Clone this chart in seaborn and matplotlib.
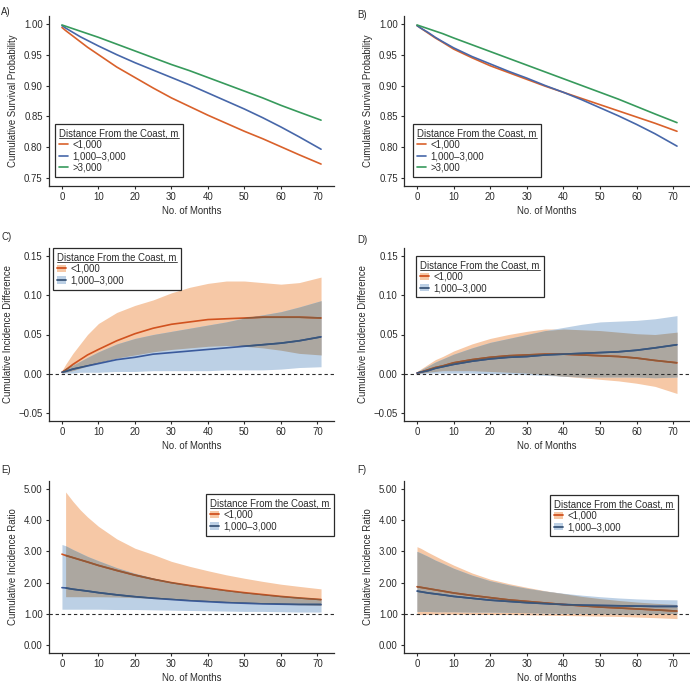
import numpy as np
import matplotlib
matplotlib.use("Agg")
import matplotlib.pyplot as plt
import seaborn as sns
from matplotlib.lines import Line2D
from matplotlib.patches import Patch
from matplotlib.path import Path

months = [0, 1, 3, 5, 7, 10, 15, 20, 25, 30, 35, 40, 45, 50, 55, 60, 65, 71]
groups3 = ["<1,000", "1,000\u20133,000", ">3,000"]
groups2 = ["<1,000", "1,000\u20133,000"]

# A) survival
surv_a_near = [0.994, 0.989, 0.980, 0.971, 0.962, 0.950, 0.930, 0.913, 0.896, 0.880, 0.866, 0.852, 0.839, 0.826, 0.814, 0.801, 0.788, 0.773]
surv_a_mid = [0.997, 0.993, 0.986, 0.979, 0.973, 0.964, 0.950, 0.937, 0.925, 0.913, 0.901, 0.888, 0.875, 0.862, 0.848, 0.833, 0.817, 0.797]
surv_a_far = [0.998, 0.996, 0.992, 0.988, 0.984, 0.978, 0.967, 0.956, 0.945, 0.934, 0.924, 0.913, 0.902, 0.891, 0.880, 0.868, 0.857, 0.844]
# B) survival
surv_b_near = [0.997, 0.993, 0.985, 0.977, 0.970, 0.959, 0.945, 0.932, 0.921, 0.910, 0.899, 0.889, 0.879, 0.869, 0.859, 0.849, 0.839, 0.826]
surv_b_mid = [0.997, 0.993, 0.986, 0.978, 0.971, 0.961, 0.947, 0.935, 0.923, 0.912, 0.900, 0.889, 0.877, 0.864, 0.851, 0.837, 0.822, 0.802]
surv_b_far = [0.998, 0.996, 0.992, 0.988, 0.984, 0.977, 0.966, 0.955, 0.944, 0.933, 0.922, 0.911, 0.900, 0.889, 0.878, 0.866, 0.854, 0.840]

# C) incidence difference
cid_c_near = [0.002, 0.005, 0.012, 0.018, 0.024, 0.031, 0.042, 0.051, 0.058, 0.063, 0.066, 0.069, 0.070, 0.071, 0.072, 0.072, 0.072, 0.071]
cid_c_near_hi = [0.004, 0.012, 0.026, 0.038, 0.050, 0.064, 0.078, 0.087, 0.094, 0.103, 0.110, 0.115, 0.118, 0.118, 0.116, 0.114, 0.116, 0.123]
cid_c_near_lo = [0.001, 0.002, 0.004, 0.007, 0.010, 0.014, 0.020, 0.024, 0.028, 0.031, 0.033, 0.035, 0.036, 0.035, 0.033, 0.030, 0.026, 0.024]
cid_c_mid = [0.002, 0.003, 0.006, 0.008, 0.010, 0.013, 0.018, 0.021, 0.025, 0.027, 0.029, 0.031, 0.033, 0.035, 0.037, 0.039, 0.042, 0.047]
cid_c_mid_hi = [0.003, 0.006, 0.011, 0.016, 0.021, 0.028, 0.038, 0.045, 0.050, 0.054, 0.058, 0.062, 0.066, 0.071, 0.075, 0.079, 0.085, 0.093]
cid_c_mid_lo = [0.001, 0.001, 0.001, 0.002, 0.002, 0.002, 0.003, 0.003, 0.004, 0.004, 0.004, 0.004, 0.005, 0.005, 0.005, 0.006, 0.008, 0.009]

# D) incidence difference
cid_d_near = [0.001, 0.002, 0.005, 0.008, 0.010, 0.014, 0.018, 0.021, 0.023, 0.024, 0.025, 0.025, 0.024, 0.023, 0.022, 0.020, 0.017, 0.014]
cid_d_near_hi = [0.003, 0.006, 0.012, 0.018, 0.022, 0.029, 0.038, 0.045, 0.050, 0.054, 0.057, 0.057, 0.056, 0.055, 0.053, 0.051, 0.050, 0.053]
cid_d_near_lo = [0.000, 0.001, 0.002, 0.003, 0.004, 0.004, 0.004, 0.003, 0.002, 0.001, -0.001, -0.003, -0.005, -0.007, -0.009, -0.012, -0.016, -0.025]
cid_d_mid = [0.001, 0.002, 0.004, 0.007, 0.009, 0.012, 0.016, 0.019, 0.021, 0.022, 0.024, 0.025, 0.026, 0.027, 0.028, 0.030, 0.033, 0.037]
cid_d_mid_hi = [0.002, 0.005, 0.010, 0.015, 0.019, 0.025, 0.033, 0.040, 0.045, 0.050, 0.055, 0.059, 0.063, 0.066, 0.067, 0.068, 0.070, 0.074]
cid_d_mid_lo = [0.000, 0.000, 0.001, 0.001, 0.001, 0.001, 0.001, 0.000, 0.000, -0.001, -0.002, -0.003, -0.004, -0.004, -0.004, -0.004, -0.005, -0.004]

# E) incidence ratio
cir_e_near = [2.91, 2.87, 2.80, 2.73, 2.66, 2.55, 2.39, 2.24, 2.11, 2.00, 1.91, 1.83, 1.75, 1.68, 1.62, 1.56, 1.51, 1.46]
cir_e_near_hi = [np.nan, 4.90, 4.60, 4.33, 4.10, 3.80, 3.40, 3.10, 2.90, 2.68, 2.52, 2.38, 2.25, 2.14, 2.04, 1.95, 1.88, 1.80]
cir_e_near_lo = [np.nan, 1.55, 1.55, 1.55, 1.55, 1.55, 1.54, 1.52, 1.49, 1.46, 1.43, 1.40, 1.37, 1.35, 1.33, 1.31, 1.29, 1.27]
cir_e_mid = [1.84, 1.83, 1.79, 1.76, 1.73, 1.68, 1.61, 1.55, 1.50, 1.46, 1.42, 1.39, 1.36, 1.34, 1.32, 1.31, 1.30, 1.30]
cir_e_mid_hi = [3.22, 3.18, 3.06, 2.95, 2.84, 2.70, 2.48, 2.30, 2.15, 2.02, 1.92, 1.83, 1.75, 1.68, 1.62, 1.57, 1.53, 1.48]
cir_e_mid_lo = [1.15, 1.15, 1.15, 1.15, 1.15, 1.15, 1.14, 1.14, 1.13, 1.12, 1.11, 1.10, 1.09, 1.08, 1.08, 1.07, 1.06, 1.06]

# F) incidence ratio
cir_f_near = [1.87, 1.85, 1.81, 1.77, 1.73, 1.67, 1.59, 1.52, 1.45, 1.40, 1.35, 1.30, 1.26, 1.22, 1.19, 1.16, 1.13, 1.09]
cir_f_near_hi = [3.15, 3.10, 2.97, 2.85, 2.73, 2.56, 2.31, 2.11, 1.97, 1.85, 1.74, 1.65, 1.56, 1.49, 1.43, 1.38, 1.34, 1.30]
cir_f_near_lo = [0.98, 0.98, 0.99, 0.99, 0.99, 0.99, 0.99, 0.98, 0.98, 0.97, 0.96, 0.95, 0.94, 0.93, 0.92, 0.90, 0.88, 0.85]
cir_f_mid = [1.73, 1.71, 1.67, 1.64, 1.61, 1.56, 1.50, 1.44, 1.40, 1.36, 1.33, 1.30, 1.28, 1.27, 1.26, 1.25, 1.24, 1.24]
cir_f_mid_hi = [3.00, 2.95, 2.84, 2.72, 2.62, 2.46, 2.24, 2.06, 1.93, 1.82, 1.73, 1.66, 1.60, 1.55, 1.51, 1.48, 1.46, 1.45]
cir_f_mid_lo = [1.08, 1.08, 1.08, 1.07, 1.07, 1.07, 1.06, 1.06, 1.05, 1.04, 1.03, 1.02, 1.02, 1.01, 1.00, 1.00, 1.01, 1.02]

ORANGE, BLUE, GREEN = "#D9612B", "#4767A9", "#379A5C"
# line colours as they show through their own (multiplied) band
ORANGE_IN, BLUE_IN = "#D1521F", "#3A5A9C"
ORANGE_FILL, BLUE_FILL, BOTH_FILL = "#F6C8A6", "#BCD0E5", "#ACA7A0"
ORANGE_DARK, BLUE_DARK = "#8E5A3A", "#3A5679"
INK = "#2b2b2b"
FS = 6.9

sns.set_style("ticks")
plt.rcParams["font.family"] = ["Liberation Sans", "DejaVu Sans"]
plt.rcParams["font.size"] = FS

W, H = 690, 683
fig = plt.figure(figsize=(W / 100, H / 100), dpi=100)


def make_ax(left, top, width, height):
    return fig.add_axes([left / W, (H - top - height) / H, width / W, height / H])


def style_ax(ax, ylim, yticks, ylabel):
    ax.set_xlim(-3.55, 74.55)
    ax.set_ylim(*ylim)
    ax.set_xticks(range(0, 71, 10))
    ax.set_yticks(yticks)
    ax.set_yticklabels([f"{v:.2f}".replace("-", "\u2212") for v in yticks])
    ax.set_xlabel("No. of Months", fontsize=FS, color=INK, labelpad=3)
    ax.set_ylabel(ylabel, fontsize=FS, color=INK, labelpad=4)
    ax.tick_params(length=2.5, width=0.8, color=INK, labelcolor=INK, labelsize=FS, pad=2)
    sns.despine(ax=ax)
    for s in ("left", "bottom"):
        ax.spines[s].set_color(INK)
        ax.spines[s].set_linewidth(0.9)


legends = []


def add_legend(ax, handles, labels, loc, anchor):
    leg = ax.legend(handles, labels, title="Distance From the Coast, m", loc=loc,
                    bbox_to_anchor=anchor, borderaxespad=0, frameon=True, fancybox=False,
                    framealpha=1, edgecolor=INK, fontsize=FS, title_fontsize=FS,
                    handlelength=0.9, handleheight=0.8, handletextpad=0.5,
                    labelspacing=0.15, borderpad=0.45, alignment="left")
    leg.get_frame().set_linewidth(0.9)
    leg.get_title().set_color(INK)
    for t in leg.get_texts():
        t.set_color(INK)
    legends.append(leg)


def survival_panel(ax, series):
    for vals, c in zip(series, [ORANGE, BLUE, GREEN]):
        sns.lineplot(x=months, y=vals, color=c, lw=1.2, ax=ax)
    style_ax(ax, (0.7375, 1.0125), [0.75, 0.80, 0.85, 0.90, 0.95, 1.00],
             "Cumulative Survival Probability")
    return [Line2D([], [], color=c, lw=1.2) for c in [ORANGE, BLUE, GREEN]]


def band_panel(ax, near, near_lo, near_hi, mid, mid_lo, mid_hi, ref):
    near_lo, near_hi = np.array(near_lo, float), np.array(near_hi, float)
    mid_lo, mid_hi = np.array(mid_lo, float), np.array(mid_hi, float)
    ax.fill_between(months, near_lo, near_hi, color=ORANGE_FILL, lw=0, zorder=1)
    ax.fill_between(months, mid_lo, mid_hi, color=BLUE_FILL, lw=0, zorder=1)
    lo = np.maximum(near_lo, mid_lo)
    hi = np.minimum(near_hi, mid_hi)
    poly = ax.fill_between(months, lo, hi, where=hi > lo, interpolate=True,
                           color=BOTH_FILL, lw=0, zorder=2)
    clip = Path.make_compound_path(*poly.get_paths())
    for vals, c, dark in [(near, ORANGE_IN, ORANGE_DARK), (mid, BLUE_IN, BLUE_DARK)]:
        sns.lineplot(x=months, y=vals, color=c, lw=1.2, ax=ax, zorder=3)
        sns.lineplot(x=months, y=vals, color=dark, lw=1.2, ax=ax, zorder=4)
        ax.lines[-1].set_clip_path(clip, ax.transData)
    ax.axhline(ref, color=INK, lw=0.8, ls=(0, (3, 2.5)), zorder=5)
    return [(Patch(facecolor=ORANGE_FILL, edgecolor="none"), Line2D([], [], color=ORANGE_IN, lw=1.3)),
            (Patch(facecolor=BLUE_FILL, edgecolor="none"), Line2D([], [], color=BLUE_DARK, lw=1.3))]


axA = make_ax(49, 16, 285, 170)
axB = make_ax(404, 16, 286, 170)
axC = make_ax(49, 248, 285, 173)
axD = make_ax(404, 248, 286, 173)
axE = make_ax(49, 481, 285, 172)
axF = make_ax(404, 481, 286, 172)

h = survival_panel(axA, [surv_a_near, surv_a_mid, surv_a_far])
add_legend(axA, h, groups3, "lower left", (0.021, 0.053))
h = survival_panel(axB, [surv_b_near, surv_b_mid, surv_b_far])
add_legend(axB, h, groups3, "lower left", (0.031, 0.053))

cid_ticks = [-0.05, 0.00, 0.05, 0.10, 0.15]
h = band_panel(axC, cid_c_near, cid_c_near_lo, cid_c_near_hi, cid_c_mid, cid_c_mid_lo, cid_c_mid_hi, 0)
style_ax(axC, (-0.06, 0.16), cid_ticks, "Cumulative Incidence Difference")
add_legend(axC, h, groups2, "upper left", (0.014, 1.0))
h = band_panel(axD, cid_d_near, cid_d_near_lo, cid_d_near_hi, cid_d_mid, cid_d_mid_lo, cid_d_mid_hi, 0)
style_ax(axD, (-0.06, 0.16), cid_ticks, "Cumulative Incidence Difference")
add_legend(axD, h, groups2, "upper left", (0.042, 0.954))

cir_ticks = [0.0, 1.0, 2.0, 3.0, 4.0, 5.0]
h = band_panel(axE, cir_e_near, cir_e_near_lo, cir_e_near_hi, cir_e_mid, cir_e_mid_lo, cir_e_mid_hi, 1)
style_ax(axE, (-0.25, 5.25), cir_ticks, "Cumulative Incidence Ratio")
add_legend(axE, h, groups2, "upper right", (1.0, 0.924))
h = band_panel(axF, cir_f_near, cir_f_near_lo, cir_f_near_hi, cir_f_mid, cir_f_mid_lo, cir_f_mid_hi, 1)
style_ax(axF, (-0.25, 5.25), cir_ticks, "Cumulative Incidence Ratio")
add_legend(axF, h, groups2, "upper right", (0.958, 0.919))

for lab, x, y in [("A)", 1, 12), ("B)", 357, 15), ("C)", 1, 237), ("D)", 357, 240),
                  ("E)", 1, 470), ("F)", 357, 470)]:
    fig.text(x / W, 1 - y / H, lab, fontsize=FS, color=INK, va="center", ha="left")

# underline the legend titles
fig.canvas.draw()
renderer = fig.canvas.get_renderer()
inv = fig.transFigure.inverted()
for leg in legends:
    bb = leg.get_title().get_window_extent(renderer)
    (x0, y0), (x1, _) = inv.transform([(bb.x0, bb.y0 + 0.5), (bb.x1, bb.y0)])
    fig.add_artist(Line2D([x0, x1], [y0, y0], color=INK, lw=0.6, transform=fig.transFigure))

fig.savefig("out.png", dpi=100)
